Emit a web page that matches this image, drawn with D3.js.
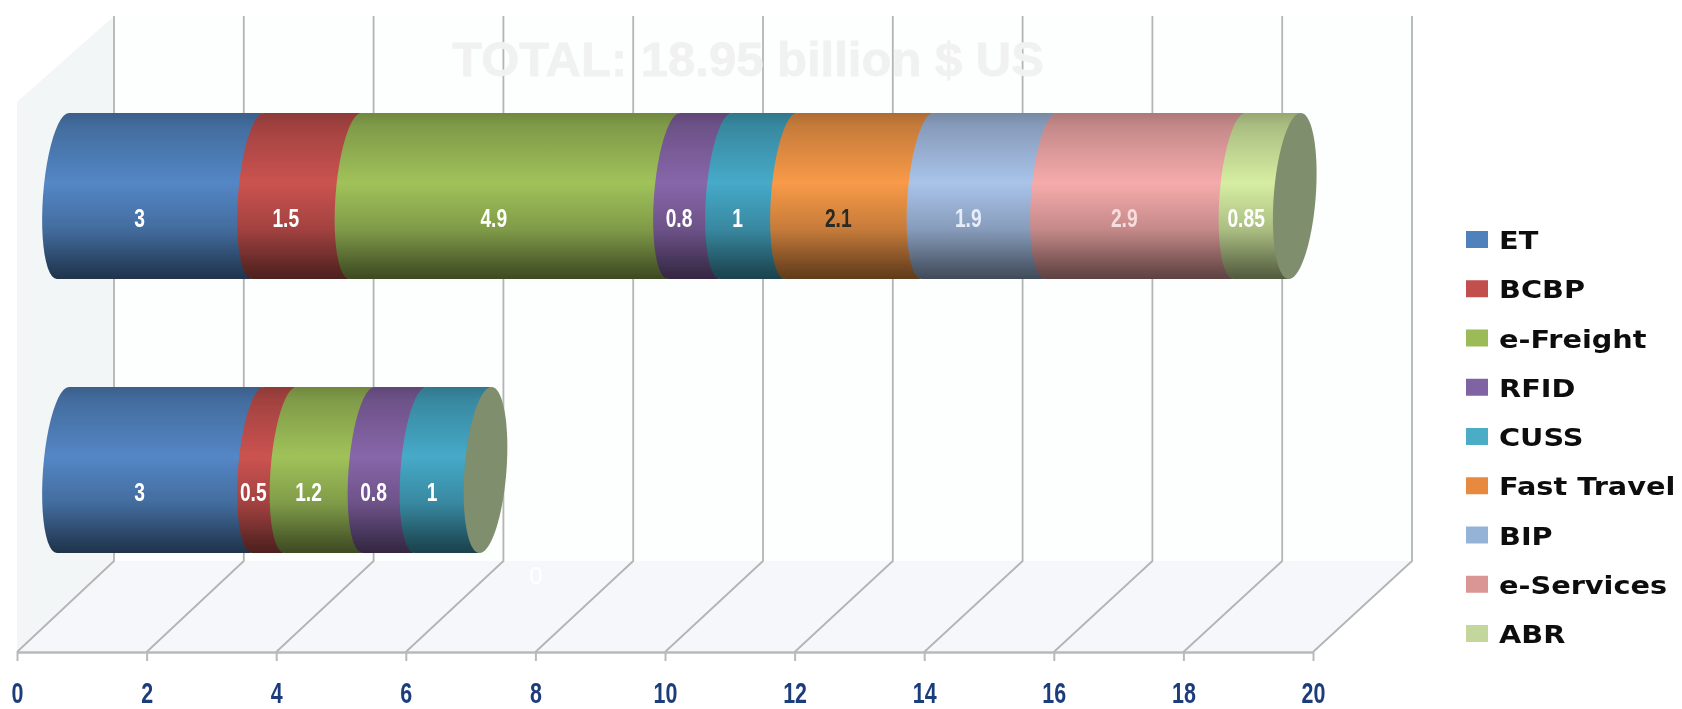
<!DOCTYPE html>
<html>
<head>
<meta charset="utf-8">
<script src="https://cdn.jsdelivr.net/npm/d3@7"></script>
<style>
  html, body { margin: 0; padding: 0; background: #fff; }
  svg { display: block; }
</style>
</head>
<body>
<div id="chart"></div>
<script>
const rows = ["total", "current"];
const seriesNames = ["ET", "BCBP", "e-Freight", "RFID", "CUSS", "Fast Travel", "BIP", "e-Services", "ABR"];
const et = [3, 3];
const bcbp = [1.5, 0.5];
const eFreight = [4.9, 1.2];
const rfid = [0.8, 0.8];
const cuss = [1, 1];
const fastTravel = [2.1, 0];
const bip = [1.9, 0];
const eServices = [2.9, 0];
const abr = [0.85, 0];
const allSeries = [et, bcbp, eFreight, rfid, cuss, fastTravel, bip, eServices, abr];
const xTicks = [0, 2, 4, 6, 8, 10, 12, 14, 16, 18, 20];
const title = "TOTAL: 18.95 billion $ US";

const barColors = ["#5487c6", "#cb5350", "#a0c25a", "#8866aa", "#46aac8", "#f89a48", "#a9c3ea", "#f6abab", "#d6eea2"];
const legendColors = ["#4f81bd", "#c0504d", "#9bbb59", "#8064a2", "#4bacc6", "#e8893f", "#95b3d7", "#d99694", "#c3d69b"];
const labelColors = ["#fff", "#fff", "#fff", "#fff", "#fff", "#2a2a20", "#e6edf8", "#f6dede", "#fff"];

const width = 1682;
const height = 709;

const xFront = d3.scaleLinear().domain([0, 20]).range([17, 1313]);
const xBack = d3.scaleLinear().domain([0, 20]).range([114, 1412]);
const xBar = d3.scaleLinear().domain([0, 20]).range([63, 1363]);
const yBand = d3.scaleBand().domain(rows).range([113, 553]).paddingInner(0.394);

const wallTop = 16, wallBottom = 561, floorFront = 652;
const rx = 20, skew = 6;

const svg = d3.select("#chart").append("svg")
  .attr("width", width)
  .attr("height", height)
  .attr("viewBox", [0, 0, width, height]);

const defs = svg.append("defs");
defs.append("filter").attr("id", "soft")
  .attr("x", "-2%").attr("y", "-2%").attr("width", "104%").attr("height", "104%")
  .append("feGaussianBlur").attr("stdDeviation", 0.7);

barColors.forEach((c, i) => {
  const g = defs.append("linearGradient").attr("id", "seg" + i)
    .attr("x1", 0).attr("x2", 0).attr("y1", 0).attr("y2", 1);
  const base = d3.color(c);
  const mix = k => d3.interpolateRgb(c, "#000")(k);
  g.append("stop").attr("offset", "0%").attr("stop-color", mix(0.3));
  g.append("stop").attr("offset", "8%").attr("stop-color", mix(0.2));
  g.append("stop").attr("offset", "42%").attr("stop-color", base.formatHex());
  g.append("stop").attr("offset", "70%").attr("stop-color", mix(0.2));
  g.append("stop").attr("offset", "92%").attr("stop-color", mix(0.52));
  g.append("stop").attr("offset", "100%").attr("stop-color", mix(0.62));
});

const root = svg.append("g").attr("filter", "url(#soft)");

// walls and floor
root.append("rect")
  .attr("x", xBack(0)).attr("y", wallTop)
  .attr("width", xBack(20) - xBack(0)).attr("height", wallBottom - wallTop)
  .attr("fill", "#fdfefe");
root.append("path")
  .attr("d", d3.line()([[xFront(0), 102], [xBack(0), wallTop], [xBack(0), wallBottom], [xFront(0), floorFront]]))
  .attr("fill", "#f3f6f6");
root.append("path")
  .attr("d", d3.line()([[xBack(0), wallBottom], [xBack(20), wallBottom], [xFront(20), floorFront], [xFront(0), floorFront]]))
  .attr("fill", "#f5f7fa");

// grid: back wall then the diagonal over the floor
root.append("g").selectAll("path")
  .data(xTicks)
  .join("path")
  .attr("d", d => d3.line()([[xBack(d), wallTop], [xBack(d), wallBottom], [xFront(d), floorFront]]))
  .attr("fill", "none")
  .attr("stroke", "#b3b5b5")
  .attr("stroke-width", 1.8);

root.append("text")
  .attr("x", 748)
  .attr("y", 76)
  .attr("text-anchor", "middle")
  .attr("font-family", "'Liberation Sans', Arial, sans-serif")
  .attr("font-weight", "bold")
  .attr("font-size", 49)
  .attr("stroke", "#f1f1f1")
  .attr("stroke-width", 0.8)
  .attr("fill", "#f1f1f1")
  .text(title);

// floor axis
const axis = root.append("g")
  .attr("transform", `translate(0,${floorFront})`)
  .call(d3.axisBottom(xFront).tickValues(xTicks).tickSize(9).tickPadding(21).tickSizeOuter(0));
axis.select(".domain").attr("stroke", "#b8baba").attr("stroke-width", 2.6);
axis.selectAll(".tick line").attr("stroke", "#b8baba").attr("stroke-width", 2);
axis.selectAll(".tick text")
  .attr("font-family", "'Liberation Sans', sans-serif")
  .attr("font-weight", "bold")
  .attr("font-size", 29)
  .attr("fill", "#1f3d7c")
  .attr("transform", "scale(0.74,1)");

// stray zero on the floor
root.append("text")
  .attr("x", xBack(6.5))
  .attr("y", 584)
  .attr("text-anchor", "middle")
  .attr("font-family", "'Liberation Sans', sans-serif")
  .attr("font-size", 24)
  .attr("fill", "#fff")
  .text(0);

// cylinders
const stacked = d3.stack()
  .keys(d3.range(allSeries.length))
  .value((rowIndex, k) => allSeries[k][rowIndex])(d3.range(rows.length));

const ry = yBand.bandwidth() / 2;
const arcAngles = d3.range(0, 25).map(i => -Math.PI / 2 - i * Math.PI / 24);

function arcPoints(cx, cy) {
  return arcAngles.map(t => [cx + rx * Math.cos(t) - skew * Math.sin(t), cy + ry * Math.sin(t)]);
}

const bars = root.append("g");
rows.forEach((row, r) => {
  const cy = yBand(row) + ry;
  const g = bars.append("g");
  let last = 0;
  stacked.forEach((layer, s) => {
    const [v0, v1] = layer[r];
    if (v1 - v0 <= 0) return;
    last = v1;
    const left = arcPoints(xBar(v0), cy);
    const right = arcPoints(xBar(v1) + 1, cy).reverse();
    g.append("path")
      .attr("d", d3.line()(left.concat(right)) + "Z")
      .attr("fill", `url(#seg${s})`);
  });
  // end cap
  const cap = d3.range(0, 72).map(i => {
    const t = i * Math.PI / 36;
    return [xBar(last) + (rx + 1) * Math.cos(t) - skew * Math.sin(t), cy + ry * Math.sin(t)];
  });
  g.append("path")
    .attr("d", d3.line()(cap) + "Z")
    .attr("fill", "#7f8e6c");
  // value labels
  stacked.forEach((layer, s) => {
    const [v0, v1] = layer[r];
    if (v1 - v0 <= 0) return;
    g.append("text")
      .attr("transform", `translate(${xBar((v0 + v1) / 2) - 21},${cy + 31}) scale(0.74,1)`)
      .attr("text-anchor", "middle")
      .attr("font-family", "'Liberation Sans', sans-serif")
      .attr("font-weight", "bold")
      .attr("font-size", 26)
      .attr("fill", labelColors[s])
      .text(allSeries[s][r]);
  });
});

// legend
const yLegend = d3.scalePoint().domain(seriesNames).range([240, 634]);
const legend = root.append("g").selectAll("g")
  .data(seriesNames)
  .join("g")
  .attr("transform", d => `translate(1466,${yLegend(d)})`);
legend.append("rect")
  .attr("y", -9)
  .attr("width", 22)
  .attr("height", 17)
  .attr("fill", (d, i) => legendColors[i]);
legend.append("text")
  .attr("transform", "translate(33,9) scale(1.15,1)")
  .attr("font-family", "'DejaVu Sans', sans-serif")
  .attr("font-weight", "bold")
  .attr("font-size", 25)
  .attr("fill", "#111")
  .text(d => d);
</script>
</body>
</html>
